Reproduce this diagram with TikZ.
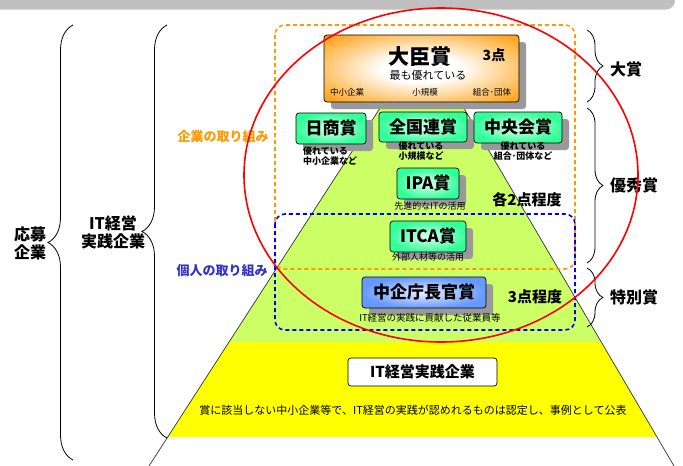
\documentclass[tikz,border=0pt]{standalone}
\usepackage{fontspec}
\setmainfont{Noto Sans CJK JP}
\usetikzlibrary{decorations.pathreplacing,shadows}

\definecolor{prizeorange}{HTML}{FF9900}
\definecolor{pyrgreen}{HTML}{CCFF66}
\definecolor{pyryellow}{HTML}{FFFF00}
\definecolor{mint}{HTML}{33FF99}
\definecolor{prizeblue}{HTML}{6699FF}
\definecolor{tagblue}{HTML}{3333CC}
\definecolor{shadowgray}{HTML}{999999}
\definecolor{bargray}{HTML}{C0C0C0}

\pgfdeclareradialshading{glow}{\pgfpoint{0bp}{0bp}}{color(0bp)=(white); color(10bp)=(white);
  color(36bp)=(prizeorange); color(50bp)=(prizeorange)}

\newcommand{\fs}[1]{\fontsize{#1}{#1}\selectfont}

\tikzset{
  prizebox/.style={draw, rounded corners=3pt, line width=0.7pt, inner sep=0pt,
    general shadow={fill=shadowgray, shadow xshift=7pt, shadow yshift=-7pt}},
  orangebox/.style={prizebox, shading=glow},
  mintbox/.style={prizebox, inner color=mint!15!white, outer color=mint,
    font=\bfseries\fs{17}},
  bluebox/.style={prizebox, inner color=prizeblue!15!white, outer color=prizeblue,
    font=\bfseries\fs{17}},
  caption/.style={inner sep=0pt, font=\fs{9}, align=center},
  count/.style={inner sep=0pt, font=\bfseries\fs{15}},
  sidelabel/.style={inner sep=0pt, font=\bfseries\fs{16}, align=center},
  bracket/.style={decorate, line width=0.8pt},
  ring/.style={rounded corners=10pt, line width=1.6pt, dash pattern=on 4pt off 3pt}
}

\begin{document}
\begin{tikzpicture}[x=1pt,y=-1pt]
  \useasboundingbox (0,0) rectangle (683,466);
  \fill[bargray, rounded corners=9pt] (-20,-30) rectangle (675,9.5);

  % pyramid
  \coordinate (apex) at (424,40);
  \coordinate (bl) at (149,466);
  \coordinate (br) at (674,466);
  \begin{scope}
    \clip (apex) -- (bl) -- (br) -- cycle;
    \fill[pyrgreen] (0,30) rectangle (683,342);
    \fill[pyryellow] (0,342) rectangle (683,437);
  \end{scope}
  \draw[black!80, line width=0.7pt] (bl) -- (apex) -- (br);

  % groups
  \draw[ring, prizeorange] (275,25) rectangle (575,269);
  \draw[ring, blue] (275,214) rectangle (575,330);

  % grand prize
  \node[orangebox, minimum width=195pt, minimum height=67pt] (daijin) at (421.5,68.5) {};
  \node[inner sep=0pt, font=\bfseries\fs{21}] (daijintitle) at (420,57) {大臣賞};
  \node[count, font=\bfseries\fs{14}] (daijincount) at (494,55) {3点};
  \node[inner sep=0pt, font=\fs{11}] (daijinnote) at (428,75) {最も優れている};
  \node[inner sep=0pt, font=\fs{8.5}] (daijinsme) at (347,92) {中小企業};
  \node[inner sep=0pt, font=\fs{8.5}] (daijinsmall) at (425,92) {小規模};
  \node[inner sep=0pt, font=\fs{8.5}] (daijinunion) at (492,92) {組合･団体};

  % excellence prizes
  \node[mintbox, minimum width=70pt, minimum height=31pt] (nissho) at (331,128.5) {日商賞};
  \node[mintbox, minimum width=88pt, minimum height=30pt] (zenkoku) at (423,127) {全国連賞};
  \node[mintbox, minimum width=88pt, minimum height=31pt] (chuo) at (518,127.5) {中央会賞};
  \node[caption, font=\bfseries\fs{9}, align=left, anchor=north west] (nisshonote) at (303,147)
    {優れている\\[1pt]中小企業など};
  \node[caption, font=\bfseries\fs{9}, anchor=north] (zenkokunote) at (421,142)
    {優れている\\[1pt]小規模など};
  \node[caption, font=\bfseries\fs{9}, anchor=north] (chuonote) at (523,142)
    {優れている\\[1pt]組合･団体など};
  \node[mintbox, minimum width=62pt, minimum height=31pt] (ipa) at (428,183.5) {IPA賞};
  \node[caption] (ipanote) at (430,206) {先進的なITの活用};
  \node[count] (twoeach) at (527,200) {各2点程度};
  \node[inner sep=0pt, font=\bfseries\fs{13}, text=prizeorange] (corptag) at (223,137) {企業の取り組み};

  % special prizes
  \node[mintbox, minimum width=76pt, minimum height=31pt] (itca) at (428,236.5) {ITCA賞};
  \node[caption] (itcanote) at (428,257) {外部人材等の活用};
  \node[inner sep=0pt, font=\bfseries\fs{13}, text=tagblue] (persontag) at (222,271) {個人の取り組み};
  \node[bluebox, minimum width=124pt, minimum height=31pt] (chokan) at (424,292.5) {中企庁長官賞};
  \node[caption, font=\fs{9.5}] (chokannote) at (430,318) {IT経営の実践に貢献した従業員等};
  \node[count] (threeabout) at (535,297) {3点程度};

  % practising companies
  \node[draw, fill=white, rounded corners=3pt, line width=0.7pt, minimum width=149pt,
    minimum height=28pt, inner sep=0pt, font=\bfseries\fs{15}] (practice) at (422.5,372) {IT経営実践企業};
  \node[inner sep=0pt, font=\fs{11}] (practicenote) at (413,410)
    {賞に該当しない中小企業等で、IT経営の実践が認めれるものは認定し、事例として公表};

  % braces
  \draw[bracket, decoration={brace, amplitude=25pt}] (73,460) -- (73,25);
  \draw[bracket, decoration={brace, amplitude=25pt}] (167,438) -- (167,25);
  \draw[bracket, decoration={brace, amplitude=16pt}] (587,30) -- (587,102);
  \draw[bracket, decoration={brace, amplitude=16pt}] (587,108) -- (587,263);
  \draw[bracket, decoration={brace, amplitude=16pt}] (587,268) -- (587,327);
  \node[sidelabel] (applicants) at (30,243) {応募\\[2pt]企業};
  \node[sidelabel] (practising) at (113,232) {IT経営\\[2pt]実践企業};
  \node[sidelabel, anchor=west] (grand) at (610,69) {大賞};
  \node[sidelabel, anchor=west] (excellent) at (610,185) {優秀賞};
  \node[sidelabel, anchor=west] (special) at (610,297) {特別賞};

  % winners
  \draw[red, line width=1.6pt] (441,175) ellipse [x radius=197pt, y radius=167pt];
\end{tikzpicture}
\end{document}
